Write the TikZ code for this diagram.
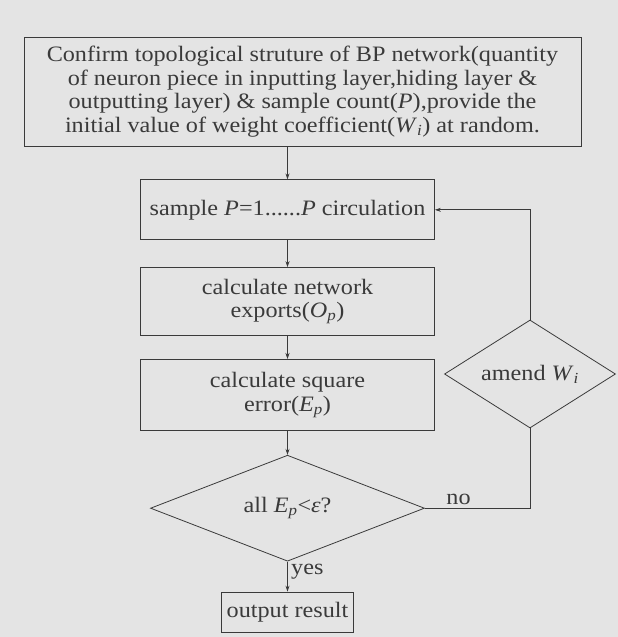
\documentclass[tikz,border=0pt]{standalone}
\usepackage{fontspec}
\setmainfont{Liberation Serif}[FakeStretch=1.1]
\usetikzlibrary{positioning, arrows.meta, shapes.geometric}

\definecolor{paper}{HTML}{E4E4E4}
\definecolor{ink}{HTML}{3A3A3A}
\newcommand{\itsub}[2]{\textit{#1}\textsubscript{\textit{#2}}}

\begin{document}
\begin{tikzpicture}[
  x=1pt, y=1pt,
  every node/.style={text=ink, font=\fontsize{22}{23.5}\selectfont},
  bigbox/.style={draw=ink, thick, minimum width=557pt, minimum height=109pt,
    align=center, inner sep=0pt},
  proc/.style={draw=ink, thick, minimum width=294pt, align=center, inner sep=0pt},
  decide/.style={draw=ink, thick, diamond, inner sep=0pt},
  arr/.style={-{Stealth[length=6pt, width=4pt]}, draw=ink, thick}
]
  \useasboundingbox[fill=paper] (0,0) rectangle (618,-637);

  \node[bigbox] (init) at (302.5,-91.5) {Confirm topological struture of BP network(quantity\\
    of neuron piece in inputting layer,hiding layer \&\\
    outputting layer) \& sample count(\textit{P}),provide the\\
    initial value of weight coefficient(\itsub{W}{i}) at random.};

  \node[proc, minimum height=60pt, below=33pt of init, xshift=-15pt] (sample)
    {sample \textit{P}=1......\textit{P} circulation};
  \node[proc, minimum height=68pt, below=27pt of sample] (network)
    {calculate network\\exports(\itsub{O}{p})};
  \node[proc, minimum height=71pt, below=23pt of network] (square)
    {calculate square\\error(\itsub{E}{p})};
  \node[decide, aspect=2.6, minimum width=274pt, minimum height=106pt,
    below=24pt of square] (check) {all \itsub{E}{p}<\textit{ε}?};
  \node[proc, minimum width=132pt, minimum height=40pt, below=30pt of check] (result)
    {output result};

  \node[decide, aspect=1.6, minimum width=171pt, minimum height=108pt] (amend)
    at (530,-374) {amend \itsub{W}{i}};

  \draw[arr] (init.south -| sample.north) -- (sample);
  \draw[arr] (sample) -- (network);
  \draw[arr] (network) -- (square);
  \draw[arr] (square) -- (check);
  \draw[arr] (check) -- node[right, pos=0.35] {yes} (result);
  \draw[draw=ink, thick] (check.east) -- node[above, pos=0.32] {no}
    (check.east -| amend.south) -- (amend.south);
  \draw[arr] (amend.north) |- (sample.east);
\end{tikzpicture}
\end{document}
